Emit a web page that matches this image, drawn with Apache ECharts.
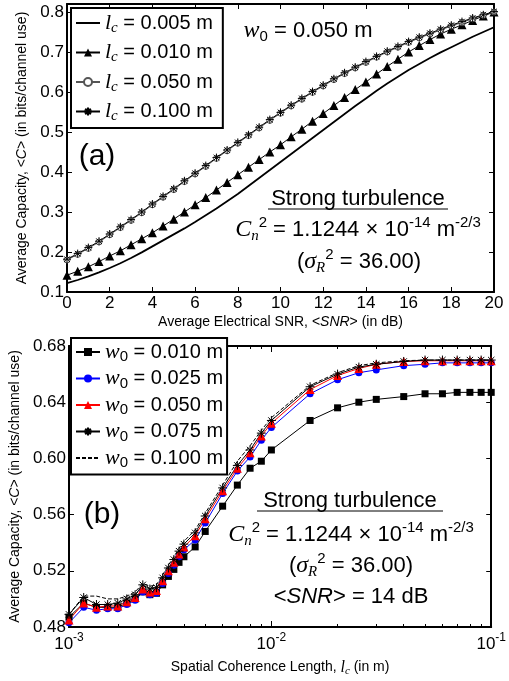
<!DOCTYPE html>
<html>
<head>
<meta charset="utf-8">
<script src="https://cdn.jsdelivr.net/npm/echarts@6/dist/echarts.min.js"></script>
<style>
html, body { margin: 0; padding: 0; background: #fff; }
#main { width: 509px; height: 681px; }
</style>
</head>
<body>
<div id="main"></div>
<script>
var FONT = 'Liberation Sans, Arial, sans-serif';
var SERIF = 'Liberation Serif, Times New Roman, serif';

// ---- (a) average capacity vs. average SNR, w0 = 0.050 m ----
var snrDb = [0, 0.5, 1, 1.5, 2, 2.5, 3, 3.5, 4, 4.5, 5, 5.5, 6, 6.5, 7, 7.5, 8, 8.5, 9, 9.5,
             10, 10.5, 11, 11.5, 12, 12.5, 13, 13.5, 14, 14.5, 15, 15.5, 16, 16.5, 17, 17.5, 18, 18.5, 19, 19.5, 20];
var capLc005 = [0.122, 0.130, 0.139, 0.149, 0.160, 0.172, 0.185, 0.199, 0.214, 0.229, 0.244, 0.259, 0.275, 0.292, 0.309,
                0.327, 0.345, 0.365, 0.385, 0.405, 0.425, 0.445, 0.465, 0.485, 0.505, 0.525, 0.545, 0.565, 0.584, 0.603,
                0.621, 0.638, 0.655, 0.670, 0.685, 0.699, 0.712, 0.725, 0.738, 0.750, 0.762];
var capLc010 = [0.142, 0.152, 0.163, 0.176, 0.190, 0.203, 0.218, 0.233, 0.248, 0.265, 0.282, 0.300, 0.318, 0.336, 0.355,
                0.374, 0.393, 0.412, 0.431, 0.450, 0.468, 0.488, 0.507, 0.527, 0.546, 0.566, 0.586, 0.606, 0.625, 0.645,
                0.664, 0.682, 0.700, 0.716, 0.731, 0.745, 0.757, 0.768, 0.779, 0.790, 0.800];
var capLc050 = [0.180, 0.194, 0.209, 0.225, 0.243, 0.261, 0.279, 0.298, 0.318, 0.337, 0.356, 0.376, 0.395, 0.414, 0.434,
                0.453, 0.472, 0.491, 0.510, 0.529, 0.547, 0.565, 0.582, 0.599, 0.615, 0.631, 0.646, 0.660, 0.674, 0.687,
                0.700, 0.712, 0.724, 0.735, 0.745, 0.755, 0.765, 0.774, 0.783, 0.792, 0.800];
var capLc100 = [0.182, 0.196, 0.211, 0.227, 0.245, 0.263, 0.281, 0.300, 0.320, 0.339, 0.358, 0.378, 0.397, 0.416, 0.436,
                0.455, 0.474, 0.493, 0.512, 0.531, 0.549, 0.567, 0.584, 0.601, 0.617, 0.633, 0.648, 0.662, 0.676, 0.689,
                0.702, 0.714, 0.726, 0.737, 0.747, 0.757, 0.767, 0.776, 0.785, 0.793, 0.801];
var namesA = ['0.005', '0.010', '0.050', '0.100'];

// ---- (b) average capacity vs. spatial coherence length, <SNR> = 14 dB ----
var lcM = [0.0012, 0.0014, 0.0016, 0.0018, 0.002, 0.0022, 0.0024, 0.0026, 0.0028, 0.003, 0.0032, 0.0034, 0.0036, 0.0038,
           0.004, 0.0045, 0.005, 0.006, 0.007, 0.008, 0.009, 0.01, 0.015, 0.02, 0.025, 0.03, 0.04, 0.05, 0.06, 0.07,
           0.08, 0.09, 0.1];
var capW010 = [0.487, 0.497, 0.494, 0.494, 0.494, 0.497, 0.500, 0.505, 0.503, 0.504, 0.510, 0.516, 0.521, 0.526, 0.530,
               0.537, 0.548, 0.566, 0.581, 0.593, 0.598, 0.606, 0.627, 0.636, 0.640, 0.642, 0.644, 0.646, 0.646, 0.647,
               0.647, 0.647, 0.647];
var capW025 = [0.483, 0.494, 0.492, 0.493, 0.493, 0.496, 0.499, 0.505, 0.503, 0.504, 0.511, 0.518, 0.524, 0.530, 0.535,
               0.542, 0.554, 0.575, 0.591, 0.601, 0.613, 0.622, 0.646, 0.656, 0.661, 0.663, 0.666, 0.667, 0.668, 0.668,
               0.668, 0.668, 0.668];
var capW050 = [0.485, 0.497, 0.494, 0.495, 0.495, 0.498, 0.501, 0.507, 0.505, 0.506, 0.513, 0.520, 0.526, 0.532, 0.537,
               0.545, 0.557, 0.577, 0.593, 0.604, 0.616, 0.625, 0.649, 0.659, 0.664, 0.667, 0.669, 0.6695, 0.6695, 0.6695,
               0.6695, 0.6695, 0.6695];
var capW075 = [0.489, 0.501, 0.496, 0.496, 0.497, 0.500, 0.503, 0.510, 0.507, 0.508, 0.515, 0.522, 0.528, 0.534, 0.539,
               0.547, 0.559, 0.579, 0.595, 0.606, 0.618, 0.627, 0.651, 0.660, 0.665, 0.667, 0.669, 0.670, 0.670, 0.670,
               0.670, 0.670, 0.670];
var capW100 = [0.489, 0.502, 0.502, 0.500, 0.500, 0.502, 0.505, 0.511, 0.509, 0.510, 0.517, 0.524, 0.530, 0.536, 0.541,
               0.549, 0.561, 0.581, 0.598, 0.609, 0.620, 0.629, 0.652, 0.661, 0.666, 0.668, 0.6695, 0.670, 0.670, 0.670,
               0.670, 0.670, 0.670];
var namesB = ['0.010', '0.025', '0.050', '0.075', '0.100'];

var xMajorB = [0.0012, 0.01, 0.1];
var xMinorB = [0.002, 0.003, 0.004, 0.005, 0.006, 0.007, 0.008, 0.009,
               0.02, 0.03, 0.04, 0.05, 0.06, 0.07, 0.08, 0.09];

var STAR = 'path://M5,0L5,10M0,5L10,5M1.5,1.5L8.5,8.5M1.5,8.5L8.5,1.5';

function pairs(xs, ys) {
    return xs.map(function (x, i) { return [x, ys[i]]; });
}

var chart = echarts.init(document.getElementById('main'));

var richSub = {
    t: { fontFamily: FONT, fontSize: 20, color: '#000' },
    i: { fontFamily: SERIF, fontStyle: 'italic', fontSize: 22, color: '#000' },
    si: { fontFamily: SERIF, fontStyle: 'italic', fontSize: 15, color: '#000', padding: [10, 0, 0, 0] },
    s0: { fontFamily: FONT, fontSize: 15, color: '#000', padding: [10, 0, 0, 0] }
};

var richNote = {
    t: { fontFamily: FONT, fontSize: 22, color: '#000' },
    ci: { fontFamily: SERIF, fontStyle: 'italic', fontSize: 24, color: '#000' },
    si: { fontFamily: SERIF, fontStyle: 'italic', fontSize: 15, color: '#000', padding: [12, 0, 0, 0] },
    s0: { fontFamily: FONT, fontSize: 15, color: '#000', padding: [12, 0, 0, 0] },
    sp: { fontFamily: FONT, fontSize: 15, color: '#000', padding: [0, 0, 14, 0] },
    it: { fontFamily: FONT, fontStyle: 'italic', fontSize: 22, color: '#000' }
};

var richTick = {
    b: { fontFamily: FONT, fontSize: 17, color: '#000' },
    s: { fontFamily: FONT, fontSize: 12, color: '#000', padding: [0, 0, 12, 0] }
};

function frameAxis(extra) {
    var base = {
        axisLine: { show: true, onZero: false, lineStyle: { color: '#000', width: 2 } },
        axisTick: { show: true, inside: true, length: 5, lineStyle: { color: '#000', width: 1 } },
        axisLabel: { show: false },
        splitLine: { show: false }
    };
    for (var k in extra) base[k] = extra[k];
    return base;
}

// legend entries of plain lines get no marker
function legendItem(name, plain) {
    return plain ? { name: name, itemStyle: { opacity: 0 } } : { name: name };
}

var gridA = { left: 67, top: 4, width: 427, height: 288 };
var gridB = { left: 67, top: 346, width: 427, height: 281 };

var option = {
    animation: false,
    backgroundColor: '#fff',
    grid: [gridA, gridB],
    xAxis: [
        frameAxis({
            gridIndex: 0, type: 'value', position: 'bottom', min: 0, max: 20, interval: 2,
            axisLabel: { show: true, margin: 3, fontFamily: FONT, fontSize: 17, color: '#000' },
            name: 'Average Electrical SNR, <{i|SNR}> (in dB)', nameLocation: 'middle', nameGap: 23,
            nameTextStyle: { fontFamily: FONT, fontSize: 14, color: '#000',
                rich: { i: { fontFamily: FONT, fontStyle: 'italic', fontSize: 14, color: '#000' } } }
        }),
        frameAxis({ gridIndex: 0, type: 'value', position: 'top', min: 0, max: 20, interval: 2 }),
        frameAxis({
            gridIndex: 1, type: 'log', logBase: 10, position: 'bottom', min: 0.0012, max: 0.1,
            axisTick: { show: true, inside: true, length: 6, customValues: xMajorB, lineStyle: { color: '#000', width: 1 } },
            axisLabel: {
                show: true, margin: 5, customValues: xMajorB,
                formatter: function (v) {
                    var e = v < 0.005 ? '-3' : (v < 0.05 ? '-2' : '-1');
                    return '{b|10}{s|' + e + '}';
                },
                rich: richTick
            },
            name: 'Spatial Coherence Length, {i|l}{s|c} (in m)', nameLocation: 'middle', nameGap: 31,
            nameTextStyle: { fontFamily: FONT, fontSize: 14, color: '#000',
                rich: {
                    i: { fontFamily: SERIF, fontStyle: 'italic', fontSize: 16, color: '#000' },
                    s: { fontFamily: SERIF, fontStyle: 'italic', fontSize: 11, color: '#000', padding: [8, 0, 0, 0] }
                } }
        }),
        frameAxis({
            gridIndex: 1, type: 'log', logBase: 10, position: 'bottom', min: 0.0012, max: 0.1,
            axisLine: { show: false },
            axisTick: { show: true, inside: true, length: 3, customValues: xMinorB, lineStyle: { color: '#000', width: 1 } }
        }),
        frameAxis({
            gridIndex: 1, type: 'log', logBase: 10, position: 'top', min: 0.0012, max: 0.1,
            axisTick: { show: true, inside: true, length: 6, customValues: xMajorB, lineStyle: { color: '#000', width: 1 } }
        }),
        frameAxis({
            gridIndex: 1, type: 'log', logBase: 10, position: 'top', min: 0.0012, max: 0.1,
            axisLine: { show: false },
            axisTick: { show: true, inside: true, length: 3, customValues: xMinorB, lineStyle: { color: '#000', width: 1 } }
        })
    ],
    yAxis: [
        frameAxis({
            gridIndex: 0, type: 'value', position: 'left', min: 0.1, max: 0.82, interval: 0.1,
            axisLabel: {
                show: true, margin: 3, fontFamily: FONT, fontSize: 17, color: '#000',
                formatter: function (v) { return v > 0.81 ? '' : v.toFixed(1); }
            },
            name: 'Average Capacity, <{i|C}> (in bits/channel use)', nameLocation: 'middle', nameGap: 31,
            nameTextStyle: { fontFamily: FONT, fontSize: 14, color: '#000',
                rich: { i: { fontFamily: FONT, fontStyle: 'italic', fontSize: 14, color: '#000' } } }
        }),
        frameAxis({ gridIndex: 0, type: 'value', position: 'right', min: 0.1, max: 0.82, interval: 0.1 }),
        frameAxis({
            gridIndex: 1, type: 'value', position: 'left', min: 0.48, max: 0.68, interval: 0.04,
            axisLabel: {
                show: true, margin: 3, fontFamily: FONT, fontSize: 17, color: '#000',
                formatter: function (v) { return v.toFixed(2); }
            },
            name: 'Average Capacity, <{i|C}> (in bits/channel use)', nameLocation: 'middle', nameGap: 42,
            nameTextStyle: { fontFamily: FONT, fontSize: 14, color: '#000',
                rich: { i: { fontFamily: FONT, fontStyle: 'italic', fontSize: 14, color: '#000' } } }
        }),
        frameAxis({ gridIndex: 1, type: 'value', position: 'right', min: 0.48, max: 0.68, interval: 0.04 })
    ],
    legend: [
        {
            orient: 'vertical', left: 71, top: 8,
            backgroundColor: '#fff', borderColor: '#000', borderWidth: 2, borderRadius: 0,
            padding: [4, 10, 4, 4], itemGap: 6, itemWidth: 24, itemHeight: 10,
            data: namesA.map(function (n, i) { return legendItem('lc ' + n, i === 0); }),
            formatter: function (name) { return '{i|l}{si|c}{t| = ' + name.slice(3) + ' m}'; },
            textStyle: { fontFamily: FONT, fontSize: 20, color: '#000', rich: richSub }
        },
        {
            orient: 'vertical', left: 71, top: 338,
            backgroundColor: '#fff', borderColor: '#000', borderWidth: 2, borderRadius: 0,
            padding: [3, 4, 4, 4], itemGap: 3, itemWidth: 24, itemHeight: 10,
            data: namesB.map(function (n, i) { return legendItem('w0 ' + n, i === 4); }),
            formatter: function (name) { return '{i|w}{s0|0}{t| = ' + name.slice(3) + ' m}'; },
            textStyle: { fontFamily: FONT, fontSize: 20, color: '#000', rich: richSub }
        }
    ],
    graphic: [
        { type: 'text', x: 97, y: 157, style: { text: '(a)', font: '30px ' + FONT, fill: '#000', align: 'center', verticalAlign: 'middle' } },
        { type: 'text', x: 308, y: 31, style: { text: '{ci|w}{s0|0}{t| = 0.050 m}', rich: richNote, align: 'center', verticalAlign: 'middle' } },
        { type: 'text', x: 358, y: 199, style: { text: 'Strong turbulence', font: '22px ' + FONT, fill: '#000', align: 'center', verticalAlign: 'middle' } },
        { type: 'line', shape: { x1: 268, y1: 209, x2: 448, y2: 209 }, style: { stroke: '#000', lineWidth: 1 } },
        { type: 'text', x: 358, y: 230, style: { text: '{ci|C}{si|n}{sp|2}{t| = 1.1244 × 10}{sp|-14}{t| m}{sp|-2/3}', rich: richNote, align: 'center', verticalAlign: 'middle' } },
        { type: 'text', x: 359, y: 262, style: { text: '{t|(}{ci|σ}{si|R}{sp|2}{t| = 36.00)}', rich: richNote, align: 'center', verticalAlign: 'middle' } },

        { type: 'text', x: 102, y: 515, style: { text: '(b)', font: '30px ' + FONT, fill: '#000', align: 'center', verticalAlign: 'middle' } },
        { type: 'text', x: 350, y: 501, style: { text: 'Strong turbulence', font: '22px ' + FONT, fill: '#000', align: 'center', verticalAlign: 'middle' } },
        { type: 'line', shape: { x1: 257, y1: 511, x2: 443, y2: 511 }, style: { stroke: '#000', lineWidth: 1 } },
        { type: 'text', x: 351, y: 535, style: { text: '{ci|C}{si|n}{sp|2}{t| = 1.1244 × 10}{sp|-14}{t| m}{sp|-2/3}', rich: richNote, align: 'center', verticalAlign: 'middle' } },
        { type: 'text', x: 351, y: 566, style: { text: '{t|(}{ci|σ}{si|R}{sp|2}{t| = 36.00)}', rich: richNote, align: 'center', verticalAlign: 'middle' } },
        { type: 'text', x: 351, y: 597, style: { text: '{t|<}{it|SNR}{t|> = 14 dB}', rich: richNote, align: 'center', verticalAlign: 'middle' } }
    ],
    series: [
        {
            name: 'lc 0.005', type: 'line', xAxisIndex: 0, yAxisIndex: 0, data: pairs(snrDb, capLc005),
            symbol: 'none', lineStyle: { color: '#000', width: 1.8 }, itemStyle: { color: '#000' }
        },
        {
            name: 'lc 0.010', type: 'line', xAxisIndex: 0, yAxisIndex: 0, data: pairs(snrDb, capLc010),
            symbol: 'triangle', symbolSize: 9, lineStyle: { color: '#000', width: 1 }, itemStyle: { color: '#000' }
        },
        {
            name: 'lc 0.050', type: 'line', xAxisIndex: 0, yAxisIndex: 0, data: pairs(snrDb, capLc050),
            symbol: 'circle', symbolSize: 6, lineStyle: { color: '#555', width: 1 },
            itemStyle: { color: '#fff', borderColor: '#555', borderWidth: 1 }
        },
        {
            name: 'lc 0.100', type: 'line', xAxisIndex: 0, yAxisIndex: 0, data: pairs(snrDb, capLc100),
            symbol: STAR, symbolSize: 8, lineStyle: { color: '#000', width: 1 },
            itemStyle: { color: 'rgba(0,0,0,0)', borderColor: '#000', borderWidth: 1 }
        },
        {
            name: 'w0 0.010', type: 'line', xAxisIndex: 2, yAxisIndex: 2, data: pairs(lcM, capW010),
            symbol: 'rect', symbolSize: 7, lineStyle: { color: '#000', width: 1 }, itemStyle: { color: '#000' }
        },
        {
            name: 'w0 0.025', type: 'line', xAxisIndex: 2, yAxisIndex: 2, data: pairs(lcM, capW025),
            symbol: 'circle', symbolSize: 7, lineStyle: { color: '#0000ff', width: 1 }, itemStyle: { color: '#0000ff' }
        },
        {
            name: 'w0 0.050', type: 'line', xAxisIndex: 2, yAxisIndex: 2, data: pairs(lcM, capW050),
            symbol: 'triangle', symbolSize: 9, lineStyle: { color: '#ff0000', width: 1 }, itemStyle: { color: '#ff0000' }
        },
        {
            name: 'w0 0.075', type: 'line', xAxisIndex: 2, yAxisIndex: 2, data: pairs(lcM, capW075),
            symbol: STAR, symbolSize: 9, lineStyle: { color: '#000', width: 1 },
            itemStyle: { color: 'rgba(0,0,0,0)', borderColor: '#000', borderWidth: 1 }
        },
        {
            name: 'w0 0.100', type: 'line', xAxisIndex: 2, yAxisIndex: 2, data: pairs(lcM, capW100),
            symbol: 'none', lineStyle: { color: '#000', width: 1, type: [4, 2] }, itemStyle: { color: '#000' }
        }
    ]
};

chart.setOption(option);
</script>
</body>
</html>
